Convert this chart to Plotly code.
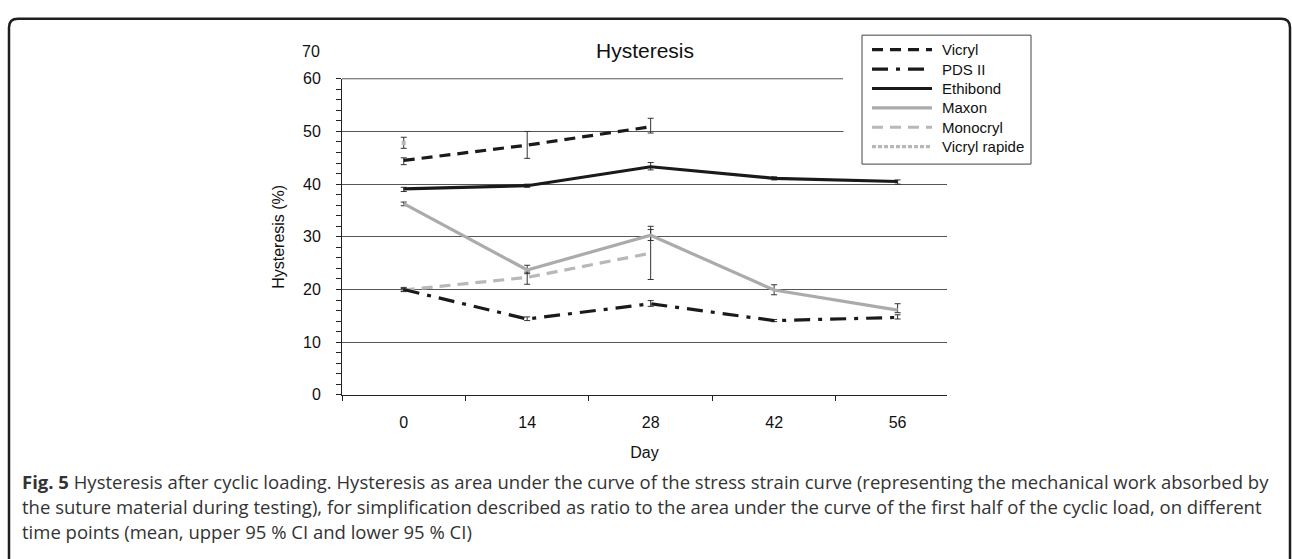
import plotly.graph_objects as go

W, H = 1292, 559
def px(x): return x / W
def py(y): return 1 - y / H

days = ["0", "14", "28", "42", "56"]

series_names = ["Vicryl", "PDS II", "Ethibond", "Maxon", "Monocryl", "Vicryl rapide"]

vicryl_mean = [44.5, 47.4, 50.9]
vicryl_hi = [45.0, 50.0, 52.5]
vicryl_lo = [43.7, 44.9, 49.7]

pds_mean = [20.0, 14.4, 17.3, 14.1, 14.7]
pds_hi = [20.4, 14.8, 17.9, 14.3, 15.2]
pds_lo = [19.7, 14.1, 16.8, 13.9, 14.4]

ethibond_mean = [39.1, 39.7, 43.3, 41.1, 40.5]
ethibond_hi = [39.4, 40.0, 44.1, 41.4, 40.8]
ethibond_lo = [38.6, 39.4, 42.7, 40.8, 40.0]

maxon_mean = [36.3, 23.7, 30.3, 19.9, 16.1]
maxon_hi = [36.6, 24.6, 31.4, 20.9, 17.3]
maxon_lo = [35.9, 23.0, 29.3, 19.0, 15.6]

monocryl_mean = [19.9, 22.3, 26.9]
monocryl_hi = [20.2, 23.3, 32.0]
monocryl_lo = [19.6, 21.0, 21.9]

rapide_mean = [47.8]
rapide_hi = [48.9]
rapide_lo = [46.8]

styles = {
    "Vicryl": dict(color="#1a1a1a", width=3.2, dash="11px,7px"),
    "PDS II": dict(color="#1a1a1a", width=3.2, dash="16px,8px,4px,8px"),
    "Ethibond": dict(color="#1a1a1a", width=3.2, dash="solid"),
    "Maxon": dict(color="#ababab", width=3.2, dash="solid"),
    "Monocryl": dict(color="#b8b8b8", width=3.2, dash="11px,7px"),
    "Vicryl rapide": dict(color="#b8b8b8", width=3.2, dash="4px,2px"),
}

data = {
    "Vicryl": (vicryl_mean, vicryl_hi, vicryl_lo),
    "PDS II": (pds_mean, pds_hi, pds_lo),
    "Ethibond": (ethibond_mean, ethibond_hi, ethibond_lo),
    "Maxon": (maxon_mean, maxon_hi, maxon_lo),
    "Monocryl": (monocryl_mean, monocryl_hi, monocryl_lo),
    "Vicryl rapide": (rapide_mean, rapide_hi, rapide_lo),
}

fig = go.Figure()
draw_order = ["Monocryl", "Maxon", "Vicryl rapide", "PDS II", "Ethibond", "Vicryl"]
for name in draw_order:
    m, hi, lo = data[name]
    st = styles[name]
    x = days[:len(m)]
    err = dict(type="data", symmetric=False,
               array=[h - v for h, v in zip(hi, m)],
               arrayminus=[v - l for l, v in zip(lo, m)],
               color="#333333", thickness=1, width=3)
    if len(m) == 1:
        fig.add_trace(go.Scatter(x=x, y=m, mode="markers", name=name, showlegend=False,
                                 marker=dict(symbol="square", size=4, color=st["color"]),
                                 error_y=err))
    else:
        fig.add_trace(go.Scatter(x=x, y=m, mode="lines", name=name, showlegend=False,
                                 line=dict(color=st["color"], width=st["width"], dash=st["dash"]),
                                 error_y=err))

font_main = "Liberation Sans, Arial, sans-serif"

fig.update_layout(
    width=W, height=H, autosize=False,
    margin=dict(l=0, r=0, t=0, b=0),
    paper_bgcolor="white", plot_bgcolor="white",
    font=dict(family=font_main, size=16, color="#111111"),
    showlegend=False,
    xaxis=dict(domain=[px(342), px(947)], type="category", categoryorder="array",
               categoryarray=days, range=[-0.5, 4.4],
               showline=True, linecolor="#222222", linewidth=1,
               ticks="outside", tickson="boundaries", ticklen=5, tickcolor="#222222",
               showgrid=False, zeroline=False, tickfont=dict(size=16),
               ticklabelstandoff=13,
               title=dict(text="Day", font=dict(size=16), standoff=16)),
    yaxis=dict(domain=[py(399), py(73)], range=[0, 60],
               tickvals=[0, 10, 20, 30, 40, 50, 60],
               showline=True, linecolor="#222222", linewidth=1,
               ticks="outside", ticklen=5, tickcolor="#222222",
               minor=dict(dtick=2, ticks="outside", ticklen=5, tickcolor="#222222", showgrid=False),
               showgrid=True, gridcolor="#555555", gridwidth=1, zeroline=False,
               tickfont=dict(size=16), ticklabelstandoff=12,
               title=dict(text="Hysteresis (%)", font=dict(size=16), standoff=14)),
)

shapes = []
# top line at 60
shapes.append(dict(type="line", xref="paper", yref="paper", x0=px(342), x1=px(843),
                   y0=py(73), y1=py(73), line=dict(color="#555555", width=1)))
# white gap before legend
shapes.append(dict(type="rect", xref="paper", yref="paper", x0=px(843.5), x1=px(960),
                   y0=py(140), y1=py(60), fillcolor="white", line=dict(width=0), layer="above"))
# legend box
lx0, lx1, ly0, ly1 = 862, 1031, 28, 161
shapes.append(dict(type="rect", xref="paper", yref="paper", x0=px(lx0), x1=px(lx1),
                   y0=py(ly1), y1=py(ly0), fillcolor="white",
                   line=dict(color="#444444", width=1), layer="above"))
legend_y = [43, 63, 83, 103, 123, 143]
annotations = []
for name, yy in zip(series_names, legend_y):
    st = styles[name]
    shapes.append(dict(type="line", xref="paper", yref="paper", x0=px(872), x1=px(932),
                       y0=py(yy), y1=py(yy), layer="above",
                       line=dict(color=st["color"], width=st["width"], dash=st["dash"])))
    annotations.append(dict(text=name, xref="paper", yref="paper", x=px(940), y=py(yy),
                            xanchor="left", yanchor="middle", showarrow=False,
                            font=dict(size=15, family=font_main, color="#111111")))

# frame
fx0, fy0, fx1, r = 9, 11, 1290, 9
path = (f"M {px(fx0)},{py(H + 20)} L {px(fx0)},{py(fy0 + r)} "
        f"Q {px(fx0)},{py(fy0)} {px(fx0 + r)},{py(fy0)} "
        f"L {px(fx1 - r)},{py(fy0)} Q {px(fx1)},{py(fy0)} {px(fx1)},{py(fy0 + r)} "
        f"L {px(fx1)},{py(H + 20)}")
shapes.append(dict(type="path", xref="paper", yref="paper", path=path,
                   line=dict(color="#1e1e1e", width=2.5)))

# title
annotations.append(dict(text="Hysteresis", xref="paper", yref="paper", x=px(645), y=py(44),
                        xanchor="center", yanchor="middle", showarrow=False,
                        font=dict(size=21, family=font_main, color="#111111")))
# stray "70" label
annotations.append(dict(text="70", xref="paper", yref="paper", x=px(322), y=py(45),
                        xanchor="right", yanchor="middle", showarrow=False,
                        font=dict(size=16, family=font_main, color="#111111")))

caption = [
    "<b>Fig. 5</b> Hysteresis after cyclic loading. Hysteresis as area under the curve of the stress strain curve (representing the mechanical work absorbed by",
    "the suture material during testing), for simplification described as ratio to the area under the curve of the first half of the cyclic load, on different",
    "time points (mean, upper 95 % CI and lower 95 % CI)",
]
for line, yy in zip(caption, [488, 514, 540]):
    annotations.append(dict(text=line, xref="paper", yref="paper", x=px(20), y=py(yy),
                            xanchor="left", yanchor="middle", showarrow=False,
                            font=dict(size=18.5, family="Open Sans, sans-serif", color="#333333")))

fig.update_layout(shapes=shapes, annotations=annotations)
fig.write_html("out.html")
